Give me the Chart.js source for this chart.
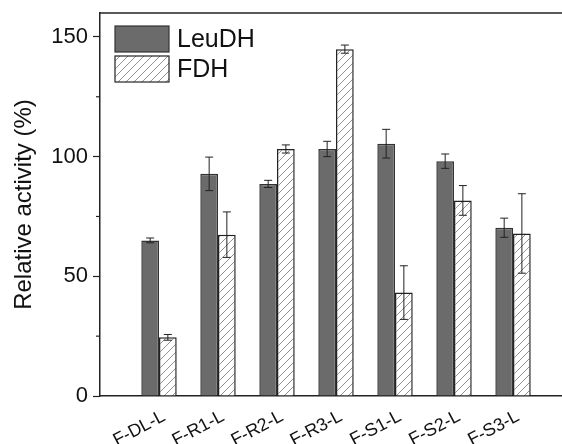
<!DOCTYPE html>
<html>
<head>
<meta charset="utf-8">
<script src="https://cdn.jsdelivr.net/npm/chart.js@4"></script>
<style>
  body { margin: 0; background: #fff; }
  #wrap { width: 562px; height: 444px; }
</style>
</head>
<body>
<div id="wrap"><canvas id="myChart"></canvas></div>
<script>
// dados
const categories = ['F-DL-L', 'F-R1-L', 'F-R2-L', 'F-R3-L', 'F-S1-L', 'F-S2-L', 'F-S3-L'];
const leudh = [65, 92.8, 88.6, 103.2, 105.4, 98.1, 70.3];
const leudhErr = [1, 7, 1.5, 3.2, 6, 3, 4];
const fdh = [24.5, 67.4, 103.2, 144.9, 43.2, 81.7, 67.9];
const fdhErr = [1.2, 9.5, 1.7, 1.7, 11.2, 6.2, 16.6];
const yTicks = [0, 50, 100, 150];
const yMinorTicks = [25, 75, 125];

const ctx = document.getElementById('myChart').getContext('2d');

// padrão hachurado para FDH
function hatch() {
  const c = document.createElement('canvas');
  c.width = 8; c.height = 8;
  const g = c.getContext('2d');
  g.fillStyle = '#fff';
  g.fillRect(0, 0, 8, 8);
  g.strokeStyle = '#777';
  g.lineWidth = 0.8;
  g.beginPath();
  g.moveTo(0, 8); g.lineTo(8, 0);
  g.moveTo(-4, 4); g.lineTo(4, -4);
  g.moveTo(4, 12); g.lineTo(12, 4);
  g.stroke();
  return ctx.createPattern(c, 'repeat');
}
const fdhFill = hatch();

const errors = [leudhErr, fdhErr];

const extras = {
  id: 'extras',
  afterDatasetsDraw(chart) {
    const c = chart.ctx;
    const ys = chart.scales.y;
    c.save();
    c.strokeStyle = '#222';
    c.lineWidth = 1;
    chart.data.datasets.forEach((ds, i) => {
      chart.getDatasetMeta(i).data.forEach((bar, j) => {
        const v = ds.data[j].y, e = errors[i][j];
        const y1 = ys.getPixelForValue(v + e), y2 = ys.getPixelForValue(v - e);
        c.beginPath();
        c.moveTo(bar.x, y1); c.lineTo(bar.x, y2);
        c.moveTo(bar.x - 4, y1); c.lineTo(bar.x + 4, y1);
        c.moveTo(bar.x - 4, y2); c.lineTo(bar.x + 4, y2);
        c.stroke();
      });
    });
    c.restore();
  },
  afterDraw(chart) {
    const c = chart.ctx;
    const a = chart.chartArea;
    const ys = chart.scales.y;
    c.save();
    // borda superior
    c.strokeStyle = '#222';
    c.lineWidth = 1.5;
    c.beginPath();
    c.moveTo(a.left, a.top); c.lineTo(a.right, a.top);
    c.stroke();
    // ticks menores
    c.lineWidth = 1.2;
    yMinorTicks.forEach(t => {
      const y = ys.getPixelForValue(t);
      c.beginPath();
      c.moveTo(a.left - 4, y); c.lineTo(a.left, y);
      c.stroke();
    });
    // legenda dentro do gráfico
    c.font = '25px "Liberation Sans", Arial, sans-serif';
    c.textBaseline = 'middle';
    chart.data.datasets.forEach((ds, i) => {
      const x = a.left + 15, y = a.top + 13 + i * 30;
      c.fillStyle = ds.backgroundColor;
      c.fillRect(x, y, 54, 26);
      c.strokeStyle = ds.borderColor;
      c.lineWidth = 1.2;
      c.strokeRect(x, y, 54, 26);
      c.fillStyle = '#111';
      c.fillText(ds.label, x + 62, y + 14);
    });
    c.restore();
  }
};

new Chart(ctx, {
  type: 'bar',
  data: {
    datasets: [
      {
        label: 'LeuDH',
        data: categories.map((cat, i) => ({ x: i + 1, y: leudh[i] })),
        backgroundColor: '#6b6b6b',
        borderColor: '#333',
        borderWidth: 1.5
      },
      {
        label: 'FDH',
        data: categories.map((cat, i) => ({ x: i + 1, y: fdh[i] })),
        backgroundColor: fdhFill,
        borderColor: '#222',
        borderWidth: 1.5
      }
    ]
  },
  options: {
    responsive: true,
    maintainAspectRatio: false,
    animation: false,
    layout: { padding: { top: 13, left: 0, right: 0, bottom: 0 } },
    categoryPercentage: 0.6,
    barPercentage: 1,
    plugins: {
      legend: { display: false },
      tooltip: { enabled: false }
    },
    scales: {
      x: {
        type: 'linear',
        offset: false,
        min: 0,
        max: 7.83,
        afterFit: s => { s.height = 48; s.paddingLeft = 0; s.paddingRight = 0; },
        grid: { drawOnChartArea: false, drawTicks: false, offset: false },
        border: { color: '#222', width: 1.5 },
        ticks: {
          stepSize: 1,
          includeBounds: false,
          autoSkip: false,
          minRotation: 28,
          maxRotation: 28,
          padding: 10,
          labelOffset: 5,
          color: '#111',
          font: { family: '"Liberation Sans", Arial, sans-serif', size: 18 },
          callback: v => (Number.isInteger(v) && categories[v - 1]) || ''
        }
      },
      y: {
        min: 0,
        max: 160,
        afterFit: s => { s.width = 100; s.paddingTop = 0; s.paddingBottom = 0; },
        afterBuildTicks: s => { s.ticks = yTicks.map(v => ({ value: v })); },
        grid: { drawOnChartArea: false, tickLength: 7, tickColor: '#222', tickWidth: 1.2 },
        border: { color: '#222', width: 1.5 },
        ticks: {
          padding: 5,
          color: '#111',
          font: { family: '"Liberation Sans", Arial, sans-serif', size: 22 }
        },
        title: {
          display: true,
          text: 'Relative activity (%)',
          color: '#111',
          padding: { top: 10, bottom: 0 },
          font: { family: '"Liberation Sans", Arial, sans-serif', size: 24 }
        }
      }
    }
  },
  plugins: [extras]
});
</script>
</body>
</html>
